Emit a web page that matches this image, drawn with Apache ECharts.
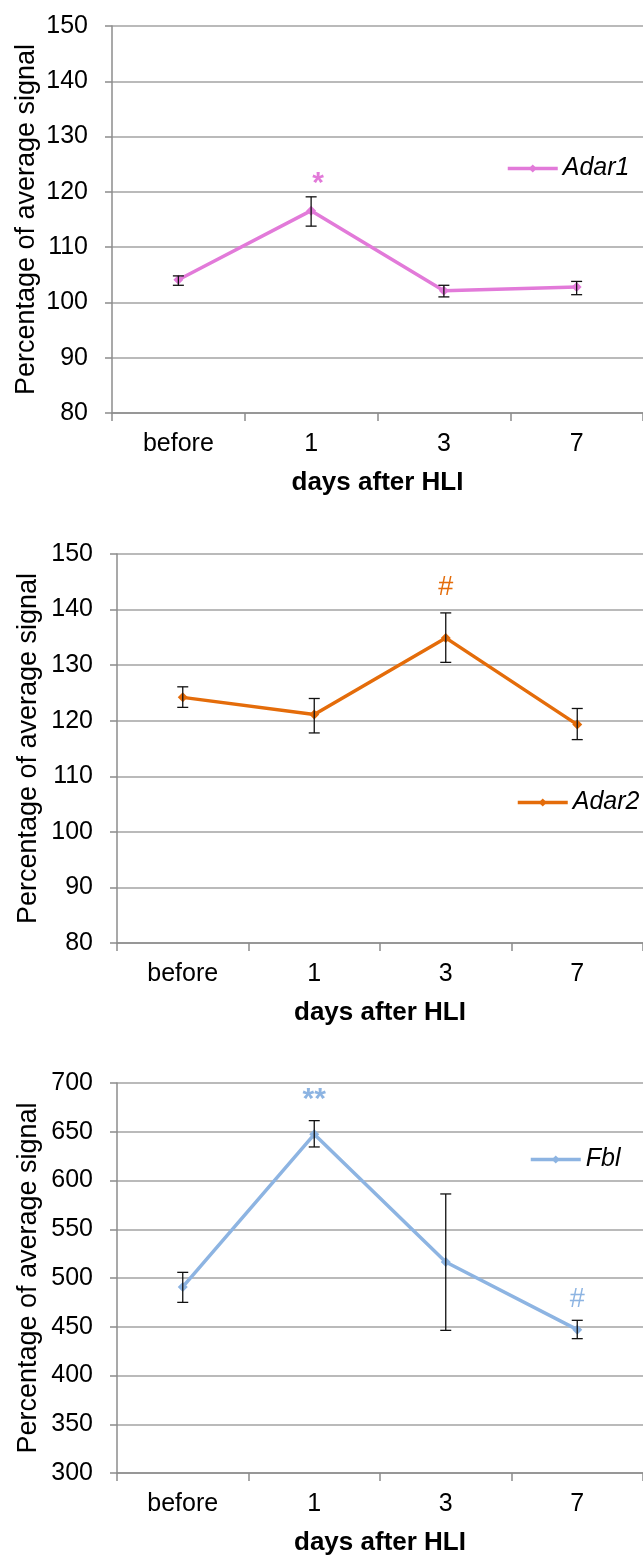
<!DOCTYPE html>
<html>
<head>
<meta charset="utf-8">
<script src="https://cdn.jsdelivr.net/npm/echarts@6/dist/echarts.min.js"></script>
<style>
html,body{margin:0;padding:0;background:#fff;}
#chart{width:643px;height:1557px;}
</style>
</head>
<body>
<div id="chart"></div>
<script>
// ---- data ----
const categories = ['before', '1', '3', '7'];

const adar1Mean = [104.1, 116.6, 102.1, 102.8];
const adar1Low  = [103.1, 113.8, 101.0, 101.4];
const adar1High = [104.8, 119.1, 103.1, 103.8];

const adar2Mean = [124.2, 121.1, 134.9, 119.3];
const adar2Low  = [122.4, 117.8, 130.5, 116.6];
const adar2High = [126.1, 124.0, 139.4, 122.2];

const fblMean = [490.8, 647.4, 516.4, 447.0];
const fblLow  = [475.0, 634.4, 446.3, 437.8];
const fblHigh = [505.8, 661.4, 586.2, 456.6];

const adar1Marks = [[1, 123, '*']];
const adar2Marks = [[2, 144, '#']];
const fblMarks   = [[1, 691, '**'], [3, 478, '#']];

const yTicks1 = [80, 150, 10];
const yTicks2 = [80, 150, 10];
const yTicks3 = [300, 700, 50];

// ---- style ----
const FONT = 'Liberation Sans, Arial, sans-serif';
const C1 = '#E27AD9';
const C2 = '#E46C0A';
const C3 = '#8DB4E2';

const panels = [
  {name: 'Adar1', color: C1, mean: adar1Mean, low: adar1Low, high: adar1High, marks: adar1Marks, ticks: yTicks1,
   grid: {left: 112, top: 26, height: 387, width: 533}, legend: {left: 506, top: 156}, nameGap: 72, markDx: 7},
  {name: 'Adar2', color: C2, mean: adar2Mean, low: adar2Low, high: adar2High, marks: adar2Marks, ticks: yTicks2,
   grid: {left: 117, top: 554, height: 389, width: 536}, legend: {left: 516, top: 790}, nameGap: 75, markDx: 0},
  {name: 'Fbl', color: C3, mean: fblMean, low: fblLow, high: fblHigh, marks: fblMarks, ticks: yTicks3,
   grid: {left: 117, top: 1083, height: 390, width: 536}, legend: {left: 529, top: 1147}, nameGap: 75, markDx: 0}
];

const option = {
  animation: false,
  backgroundColor: '#fff',
  grid: [], xAxis: [], yAxis: [], legend: [], series: []
};

panels.forEach((p, i) => {
  option.grid.push(Object.assign({containLabel: false}, p.grid));
  option.xAxis.push({
    type: 'category', gridIndex: i, data: categories, boundaryGap: true,
    name: 'days after HLI', nameLocation: 'middle', nameGap: 57, nameMoveOverlap: false,
    nameTextStyle: {fontFamily: FONT, fontSize: 26, fontWeight: 'bold', color: '#000'},
    axisLine: {lineStyle: {color: '#8c8c8c', width: 1.5}},
    axisTick: {show: true, length: 8, lineStyle: {color: '#8c8c8c', width: 1.5}},
    axisLabel: {fontFamily: FONT, fontSize: 25, color: '#000', margin: 19},
    splitLine: {show: false}
  });
  option.yAxis.push({
    type: 'value', gridIndex: i, min: p.ticks[0], max: p.ticks[1], interval: p.ticks[2],
    name: 'Percentage of average signal', nameLocation: 'middle', nameGap: p.nameGap, nameMoveOverlap: false,
    nameTextStyle: {fontFamily: FONT, fontSize: 27, color: '#000'},
    axisLine: {show: true, lineStyle: {color: '#8c8c8c', width: 1.5}},
    axisTick: {show: true, length: 7, lineStyle: {color: '#8c8c8c', width: 1.5}},
    axisLabel: {fontFamily: FONT, fontSize: 25, color: '#000', margin: 24},
    splitLine: {show: true, lineStyle: {color: '#a3a3a3', width: 1.5}}
  });
  option.legend.push({
    data: [p.name], left: p.legend.left, top: p.legend.top, padding: 0,
    itemWidth: 50, itemHeight: 10, itemGap: 0,
    lineStyle: {width: 3.5},
    textStyle: {fontFamily: FONT, fontSize: 25, fontStyle: 'italic', color: '#000'}
  });
  option.series.push({
    type: 'line', name: p.name, xAxisIndex: i, yAxisIndex: i,
    data: p.mean, symbol: 'diamond', symbolSize: 10,
    lineStyle: {color: p.color, width: 3.5}, itemStyle: {color: p.color},
    z: 2
  });
  option.series.push({
    type: 'custom', xAxisIndex: i, yAxisIndex: i, z: 3,
    data: p.mean.map((m, k) => [k, p.low[k], p.high[k]]),
    encode: {x: 0, y: [1, 2]},
    renderItem: function (params, api) {
      const c = api.value(0);
      const lo = api.coord([c, api.value(1)]);
      const hi = api.coord([c, api.value(2)]);
      const w = 5.5;
      const st = {stroke: '#111', lineWidth: 1.3};
      return {type: 'group', children: [
        {type: 'line', shape: {x1: lo[0], y1: lo[1], x2: hi[0], y2: hi[1]}, style: st},
        {type: 'line', shape: {x1: lo[0] - w, y1: lo[1], x2: lo[0] + w, y2: lo[1]}, style: st},
        {type: 'line', shape: {x1: hi[0] - w, y1: hi[1], x2: hi[0] + w, y2: hi[1]}, style: st}
      ]};
    }
  });
  option.series.push({
    type: 'custom', xAxisIndex: i, yAxisIndex: i, z: 4,
    data: p.marks.map(m => [m[0], m[1]]),
    encode: {x: 0, y: 1},
    renderItem: function (params, api) {
      const txt = p.marks[params.dataIndex][2];
      const pt = api.coord([api.value(0), api.value(1)]);
      const star = txt.indexOf('*') >= 0;
      const fs = star ? 30 : 27;
      const dy = star ? 0.27 * fs : 0;
      const dx = star ? p.markDx : 0;
      return {type: 'text', x: pt[0] + dx, y: pt[1] + dy,
        style: {text: txt, fill: p.color, fontSize: fs, fontWeight: star ? 'bold' : 'normal',
                fontFamily: FONT, align: 'center', verticalAlign: 'middle'}};
    }
  });
});

const chart = echarts.init(document.getElementById('chart'), null, {renderer: 'canvas'});
chart.setOption(option);
</script>
</body>
</html>
